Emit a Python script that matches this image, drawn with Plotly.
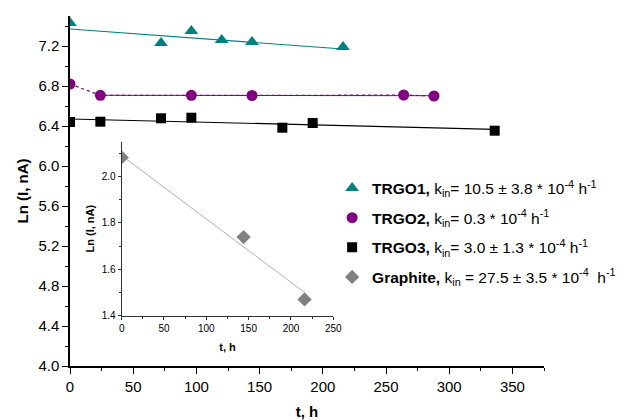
import plotly.graph_objects as go

# ---- data ----
t1 = [0, 72, 96, 120, 144, 216]
y1 = [7.43, 7.23, 7.35, 7.26, 7.24, 7.19]
fit1_t = [0, 216]
fit1_y = [7.37, 7.17]

t2 = [0, 24, 96, 144, 264, 288]
y2 = [6.82, 6.707, 6.707, 6.705, 6.71, 6.70]
fit2_t = [24, 288]
fit2_y = [6.707, 6.703]

t3 = [0, 24, 72, 96, 168, 192, 336]
y3 = [6.44, 6.443, 6.477, 6.483, 6.383, 6.43, 6.353]
fit3_t = [0, 336]
fit3_y = [6.47, 6.367]

tg = [0, 144, 216]
yg = [2.082, 1.739, 1.47]
fitg_t = [0, 216]
fitg_y = [2.09, 1.50]

labels = [
    "<b>TRGO1,</b> k<sub>in</sub>= 10.5 ± 3.8 * 10<sup>-4</sup> h<sup>-1</sup>",
    "<b>TRGO2,</b> k<sub>in</sub>= 0.3 * 10<sup>-4</sup> h<sup>-1</sup>",
    "<b>TRGO3,</b> k<sub>in</sub>= 3.0 ± 1.3 * 10<sup>-4</sup> h<sup>-1</sup>",
    "<b>Graphite,</b> k<sub>in</sub> = 27.5 ± 3.5 * 10<sup>-4</sup>  h<sup>-1</sup>",
]

teal = "#008080"
purple = "#800080"
black = "#000000"
gray = "#808080"

fig = go.Figure()

# fit lines
fig.add_trace(go.Scatter(x=fit1_t, y=fit1_y, mode="lines", line=dict(color=teal, width=1.2), showlegend=False))
fig.add_trace(go.Scatter(x=t2, y=y2, mode="lines", line=dict(color=purple, width=1.2, dash="dot"), showlegend=False))
fig.add_trace(go.Scatter(x=fit2_t, y=fit2_y, mode="lines", line=dict(color=purple, width=1), showlegend=False))
fig.add_trace(go.Scatter(x=fit3_t, y=fit3_y, mode="lines", line=dict(color=black, width=1.2), showlegend=False))

# data
fig.add_trace(go.Scatter(x=t1, y=y1, mode="markers", name=labels[0], legendgroup="a",
                         marker=dict(symbol="triangle-up", size=12, color=teal)))
fig.add_trace(go.Scatter(x=t2, y=y2, mode="markers", name=labels[1], legendgroup="b",
                         marker=dict(symbol="circle", size=11, color=purple)))
fig.add_trace(go.Scatter(x=t3, y=y3, mode="markers", name=labels[2], legendgroup="c",
                         marker=dict(symbol="square", size=10, color=black)))

# inset
fig.add_trace(go.Scatter(x=fitg_t, y=fitg_y, mode="lines", xaxis="x2", yaxis="y2",
                         line=dict(color="#b0b0b0", width=1), showlegend=False))
fig.add_trace(go.Scatter(x=tg, y=yg, mode="markers", name=labels[3], legendgroup="d", xaxis="x2", yaxis="y2",
                         marker=dict(symbol="diamond", size=11, color=gray)))

font = "Liberation Sans, Arial, sans-serif"

fig.update_layout(
    width=632, height=420,
    margin=dict(l=70, r=88, t=16, b=54, autoexpand=False),
    paper_bgcolor="white", plot_bgcolor="white",
    font=dict(family=font, color="black"),
    xaxis=dict(range=[0, 375], domain=[0, 1], showline=True, linecolor="black", linewidth=1.5,
               ticks="outside", ticklen=6, tickwidth=1.2, tickcolor="black",
               tickvals=[0, 50, 100, 150, 200, 250, 300, 350],
               minor=dict(tickvals=[25, 75, 125, 175, 225, 275, 325, 375], ticks="outside", ticklen=3, tickcolor="black"),
               tickfont=dict(size=15), showgrid=False, zeroline=False, automargin=False,
               title=dict(text="<b>t, h</b>", font=dict(size=15), standoff=18)),
    yaxis=dict(range=[4.0, 7.5], domain=[0, 1], showline=True, linecolor="black", linewidth=1.5,
               ticks="outside", ticklen=6, tickwidth=1.2, tickcolor="black",
               tickvals=[4.0, 4.4, 4.8, 5.2, 5.6, 6.0, 6.4, 6.8, 7.2], tickformat=".1f",
               minor=dict(tickvals=[4.2, 4.6, 5.0, 5.4, 5.8, 6.2, 6.6, 7.0, 7.4], ticks="outside", ticklen=3, tickcolor="black"),
               tickfont=dict(size=15), showgrid=False, zeroline=False, automargin=False,
               title=dict(text="<b>Ln (I, nA)</b>", font=dict(size=15), standoff=6)),
    xaxis2=dict(range=[0, 250], domain=[0.109, 0.5555], anchor="y2", showline=True, linecolor="#333",
                linewidth=1, ticks="outside", ticklen=3, tickcolor="#333",
                tickvals=[0, 50, 100, 150, 200, 250],
                minor=dict(tickvals=[25, 75, 125, 175, 225], ticks="outside", ticklen=2, tickcolor="#333"),
                tickfont=dict(size=10), showgrid=False, zeroline=False, automargin=False,
                title=dict(text="<b>t, h</b>", font=dict(size=11), standoff=10)),
    yaxis2=dict(range=[1.4, 2.15], domain=[0.1437, 0.641], anchor="x2", showline=True, linecolor="#333",
                linewidth=1, ticks="outside", ticklen=3, tickcolor="#333",
                tickvals=[1.4, 1.6, 1.8, 2.0], tickformat=".1f",
                minor=dict(tickvals=[1.5, 1.7, 1.9, 2.1], ticks="outside", ticklen=2, tickcolor="#333"),
                tickfont=dict(size=10), showgrid=False, zeroline=False, automargin=False,
                title=dict(text="<b>Ln (I, nA)</b>", font=dict(size=11), standoff=4)),
    legend=dict(x=0.553, y=0.556, xanchor="left", yanchor="top", bgcolor="rgba(0,0,0,0)",
                font=dict(size=15.5, family=font), tracegroupgap=6.5, itemwidth=30),
    showlegend=True,
)

fig.write_html("out.html")
